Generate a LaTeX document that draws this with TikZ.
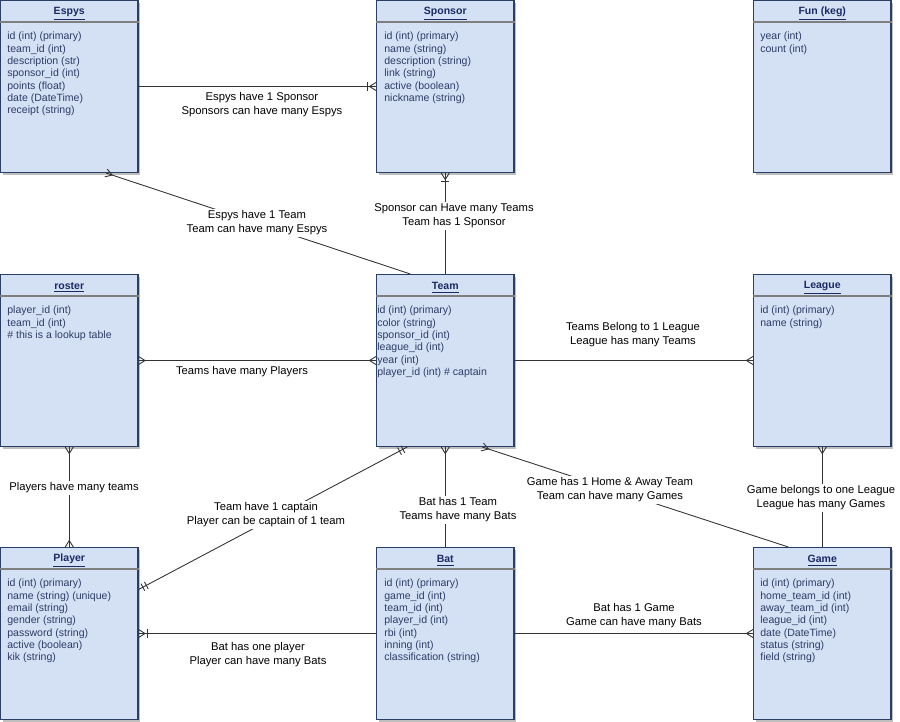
\documentclass[tikz,border=0pt]{standalone}
\usepackage{fontspec}
\setmainfont{Liberation Sans}
\usetikzlibrary{decorations.markings,shadows}

\definecolor{tblfill}{HTML}{D4E1F5}
\definecolor{tbldraw}{HTML}{2A3F66}
\definecolor{tblsep}{HTML}{7F7F7F}
\definecolor{tbltitle}{HTML}{1B2A63}
\definecolor{tbltext}{HTML}{2D3C66}

\tikzset{
	tbl/.style={draw=tbldraw,fill=tblfill,line width=0.6pt,minimum width=2.75cm,minimum height=3.44cm,
		inner sep=0,anchor=north west,drop shadow={shadow xshift=1.2pt,shadow yshift=-1.2pt,fill=black,opacity=0.25}},
	ttl/.style={font=\fontsize{6}{7}\selectfont\bfseries,text=tbltitle,inner sep=0},
	fld/.style={font=\fontsize{6}{7}\selectfont,text=tbltext,align=left,inner sep=0,anchor=north west},
	sep/.style={draw=tblsep,line width=0.6pt},
	lbl/.style={font=\fontsize{6.4}{7.9}\selectfont,fill=white,align=center,inner sep=1pt},
	rel/.style={draw=black!80,line width=0.5pt},
	crow end/.style={postaction={decorate,decoration={markings,mark=at position 1 with
		{\draw[rel] (-3.7pt,0) -- (0,2.3pt) (-3.7pt,0) -- (0,-2.3pt);}}}},
	crow start/.style={postaction={decorate,decoration={markings,mark=at position 0 with
		{\draw[rel] (3.7pt,0) -- (0,2.3pt) (3.7pt,0) -- (0,-2.3pt);}}}},
	onecrow end/.style={crow end,postaction={decorate,decoration={markings,mark=at position 1 with
		{\draw[rel] (-5pt,-2.3pt) -- (-5pt,2.3pt);}}}},
	onecrow start/.style={crow start,postaction={decorate,decoration={markings,mark=at position 0 with
		{\draw[rel] (5pt,-2.3pt) -- (5pt,2.3pt);}}}},
	dbar end/.style={postaction={decorate,decoration={markings,mark=at position 1 with
		{\draw[rel] (-2.8pt,-2.3pt) -- (-2.8pt,2.3pt) (-5pt,-2.3pt) -- (-5pt,2.3pt);}}}},
	dbar start/.style={postaction={decorate,decoration={markings,mark=at position 0 with
		{\draw[rel] (2.8pt,-2.3pt) -- (2.8pt,2.3pt) (5pt,-2.3pt) -- (5pt,2.3pt);}}}},
}

\begin{document}
\begin{tikzpicture}[x=0.02cm,y=-0.02cm]
	\useasboundingbox (0,0) rectangle (900,722);

	% tables, top row
	\node[tbl] (espys) at (0,0) {};
	\draw[sep] ([shift={(0,22)}]espys.north west) -- ([shift={(0,22)}]espys.north east);
	\node[ttl] at ([shift={(0,13.5)}]espys.north) {\underline{Espys}};
	\node[fld] at ([shift={(7,32)}]espys.north west) {id (int) (primary)\\team\_id (int)\\description (str)\\sponsor\_id (int)\\points (float)\\date (DateTime)\\receipt (string)};

	\node[tbl] (sponsor) at (376,0) {};
	\draw[sep] ([shift={(0,22)}]sponsor.north west) -- ([shift={(0,22)}]sponsor.north east);
	\node[ttl] at ([shift={(0,13.5)}]sponsor.north) {\underline{Sponsor}};
	\node[fld] at ([shift={(8,32)}]sponsor.north west) {id (int) (primary)\\name (string)\\description (string)\\link (string)\\active (boolean)\\nickname (string)};

	\node[tbl] (fun) at (753,0) {};
	\draw[sep] ([shift={(0,22)}]fun.north west) -- ([shift={(0,22)}]fun.north east);
	\node[ttl] at ([shift={(0,13.5)}]fun.north) {\underline{Fun (keg)}};
	\node[fld] at ([shift={(7,32)}]fun.north west) {year (int)\\count (int)};

	% tables, middle row
	\node[tbl] (roster) at (0,274) {};
	\draw[sep] ([shift={(0,22)}]roster.north west) -- ([shift={(0,22)}]roster.north east);
	\node[ttl] at ([shift={(0,13.5)}]roster.north) {\underline{roster}};
	\node[fld] at ([shift={(7,32)}]roster.north west) {player\_id (int)\\team\_id (int)\\\# this is a lookup table};

	\node[tbl] (team) at (376,274) {};
	\draw[sep] ([shift={(0,22)}]team.north west) -- ([shift={(0,22)}]team.north east);
	\node[ttl] at ([shift={(0,13.5)}]team.north) {\underline{Team}};
	\node[fld] at ([shift={(1,32)}]team.north west) {id (int) (primary)\\color (string)\\sponsor\_id (int)\\league\_id (int)\\year (int)\\player\_id (int) \# captain};

	\node[tbl] (league) at (753,274) {};
	\draw[sep] ([shift={(0,22)}]league.north west) -- ([shift={(0,22)}]league.north east);
	\node[ttl] at ([shift={(0,13.5)}]league.north) {\underline{League}};
	\node[fld] at ([shift={(7,32)}]league.north west) {id (int) (primary)\\name (string)};

	% tables, bottom row
	\node[tbl] (player) at (0,547) {};
	\draw[sep] ([shift={(0,22)}]player.north west) -- ([shift={(0,22)}]player.north east);
	\node[ttl] at ([shift={(0,13.5)}]player.north) {\underline{Player}};
	\node[fld] at ([shift={(7,32)}]player.north west) {id (int) (primary)\\name (string) (unique)\\email (string)\\gender (string)\\password (string)\\active (boolean)\\kik (string)};

	\node[tbl] (bat) at (376,547) {};
	\draw[sep] ([shift={(0,22)}]bat.north west) -- ([shift={(0,22)}]bat.north east);
	\node[ttl] at ([shift={(0,13.5)}]bat.north) {\underline{Bat}};
	\node[fld] at ([shift={(8,32)}]bat.north west) {id (int) (primary)\\game\_id (int)\\team\_id (int)\\player\_id (int)\\rbi (int)\\inning (int)\\classification (string)};

	\node[tbl] (game) at (753,547) {};
	\draw[sep] ([shift={(0,22)}]game.north west) -- ([shift={(0,22)}]game.north east);
	\node[ttl] at ([shift={(0,13.5)}]game.north) {\underline{Game}};
	\node[fld] at ([shift={(7,32)}]game.north west) {id (int) (primary)\\home\_team\_id (int)\\away\_team\_id (int)\\league\_id (int)\\date (DateTime)\\status (string)\\field (string)};

	% relations
	\draw[rel,onecrow end] (espys.east) -- (sponsor.west);
	\draw[rel,crow start] ([shift={(-32.5,0)}]espys.south east) -- ([shift={(-35,0)}]team.north);
	\draw[rel,onecrow start] (sponsor.south) -- (team.north);
	\draw[rel,crow start,crow end] (roster.east) -- (team.west);
	\draw[rel,crow end] (team.east) -- (league.west);
	\draw[rel,crow start,crow end] (roster.south) -- (player.north);
	\draw[rel,dbar start,dbar end] ([shift={(-38,0)}]team.south) -- ([shift={(0,-44)}]player.east);
	\draw[rel,crow start] (team.south) -- (bat.north);
	\draw[rel,crow start] ([shift={(37,0)}]team.south) -- ([shift={(-34,0)}]game.north);
	\draw[rel,crow start] (league.south) -- (game.north);
	\draw[rel,crow end] (bat.east) -- (game.west);
	\draw[rel,onecrow start] (player.east) -- (bat.west);

	% relation texts
	\node[lbl] (espysSponsorTxt) at (262,105) {Espys have 1 Sponsor\\Sponsors can have many Espys};
	\node[lbl] (espysTeamTxt) at (257,223) {Espys have 1 Team\\Team can have many Espys};
	\node[lbl] (sponsorTeamTxt) at (454,216) {Sponsor can Have many Teams\\Team has 1 Sponsor};
	\node[lbl] (rosterTeamTxt) at (242,372) {Teams have many Players};
	\node[lbl] (teamLeagueTxt) at (633,335) {Teams Belong to 1 League\\League has many Teams};
	\node[lbl] (rosterPlayerTxt) at (74,488) {Players have many teams};
	\node[lbl] (teamPlayerTxt) at (266,515) {Team have 1 captain\\Player can be captain of 1 team};
	\node[lbl] (teamBatTxt) at (458,510) {Bat has 1 Team\\Teams have many Bats};
	\node[lbl] (teamGameTxt) at (610,490) {Game has 1 Home \& Away Team\\Team can have many Games};
	\node[lbl] (leagueGameTxt) at (821,498) {Game belongs to one League\\League has many Games};
	\node[lbl] (batGameTxt) at (634,616) {Bat has 1 Game\\Game can have many Bats};
	\node[lbl] (playerBatTxt) at (258,655) {Bat has one player\\Player can have many Bats};
\end{tikzpicture}
\end{document}
